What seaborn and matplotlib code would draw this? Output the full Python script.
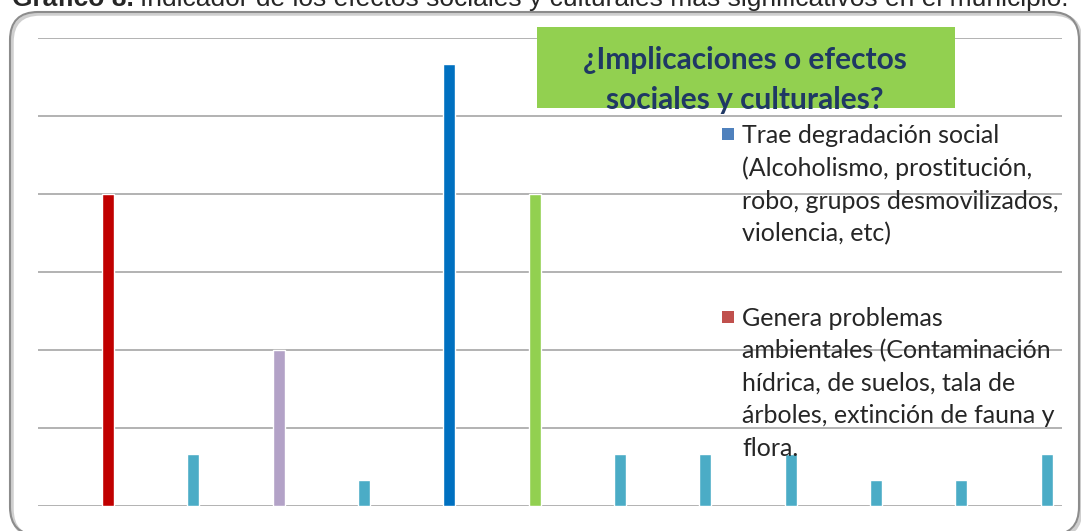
import numpy as np
import pandas as pd
import seaborn as sns
import matplotlib.pyplot as plt
from matplotlib.patches import FancyBboxPatch, Rectangle
from matplotlib.transforms import IdentityTransform

# values (grid step = 3)
categorias = ['Genera problemas ambientales', 'Otro 1', 'Otro 2', 'Otro 3',
              'Trae degradación social', 'Otro 4', 'Otro 5', 'Otro 6',
              'Otro 7', 'Otro 8', 'Otro 9', 'Otro 10']
valores = [12, 2, 6, 1, 17, 12, 2, 2, 2, 1, 1, 2]
colores = ['#C00000', '#4BACC6', '#B3A2C7', '#4BACC6', '#0070C0', '#92D050',
           '#4BACC6', '#4BACC6', '#4BACC6', '#4BACC6', '#4BACC6', '#4BACC6']
leyenda = ['Trae degradación social\n(Alcoholismo, prostitución,\nrobo, grupos desmovilizados,\nviolencia, etc)',
           'Genera problemas\nambientales (Contaminación\nhídrica, de suelos, tala de\nárboles, extinción de fauna y\nflora.']
leyenda_col = ['#4F81BD', '#C0504D']
titulo = '¿Implicaciones o efectos\nsociales y culturales?'

df = pd.DataFrame({'cat': categorias, 'val': valores})

sns.set_style('white')
plt.rcParams['font.family'] = ['Lato', 'DejaVu Sans']

W, H = 1081, 531
fig = plt.figure(figsize=(W / 100, H / 100), dpi=100)

# outer rounded frame in pixel coords (shadow + border)
px = IdentityTransform()
shadow = FancyBboxPatch((12, -6), 1069, 523, boxstyle='round,pad=0,rounding_size=28',
                        transform=px, facecolor='none', edgecolor='#CFCFCF',
                        lw=2.5, zorder=0)
fig.patches.append(shadow)
frame = FancyBboxPatch((10, -4), 1069, 523, boxstyle='round,pad=0,rounding_size=28',
                       transform=px, facecolor='none', edgecolor='#8C8C8C',
                       lw=1.5, zorder=1)
fig.patches.append(frame)

ax = fig.add_axes([38 / W, (H - 506) / H, (1062 - 38) / W, (506 - 38) / H])
sns.barplot(data=df, x='cat', y='val', hue='cat', palette=colores,
            width=0.14, legend=False, ax=ax, saturation=1)
ax.set_xlim(-0.82, 11.18)
ax.set_ylim(0, 18)
ax.set_yticks(np.arange(0, 19, 3))
ax.yaxis.grid(True, color='#A6A6A6', lw=1.2)
ax.set_axisbelow(True)
ax.set_xticks([])
ax.set_yticklabels([])
ax.tick_params(left=False, bottom=False)
ax.set_xlabel('')
ax.set_ylabel('')
ax.patch.set_alpha(0)
for s in ax.spines.values():
    s.set_visible(False)

# title box
fig.patches.append(Rectangle((537 / W, (H - 108) / H), (955 - 537) / W, 81 / H,
                             transform=fig.transFigure, facecolor='#92D050',
                             edgecolor='none', zorder=3))
fig.text(745 / W, (H - 80) / H, titulo, ha='center', va='center',
         fontsize=21.5, fontweight='bold', color='#1F3864', linespacing=1.5,
         zorder=4)

# legend
ys = [134, 317]
for lab, col, y in zip(leyenda, leyenda_col, ys):
    fig.patches.append(Rectangle((722 / W, (H - y - 6) / H), 12 / W, 12 / H,
                                 transform=fig.transFigure, facecolor=col,
                                 edgecolor='none', zorder=3))
    fig.text(742 / W, (H - y + 10) / H, lab, ha='left', va='top',
             fontsize=18, color='#262626', linespacing=1.49, zorder=4)

# caption cut at the top edge
cap_y = 1 - 6 / H
cap1 = fig.text(12 / W, cap_y, 'Gráfico 8.', ha='left', va='baseline',
                fontsize=19, fontweight='bold', family='Liberation Sans')
fig.canvas.draw()
bb = cap1.get_window_extent()
fig.text(bb.x1 / W + 6 / W, cap_y,
         'Indicador de los efectos sociales y culturales más significativos en el municipio.',
         ha='left', va='baseline', fontsize=19, family='Liberation Sans')

fig.savefig('out.png', dpi=100)
